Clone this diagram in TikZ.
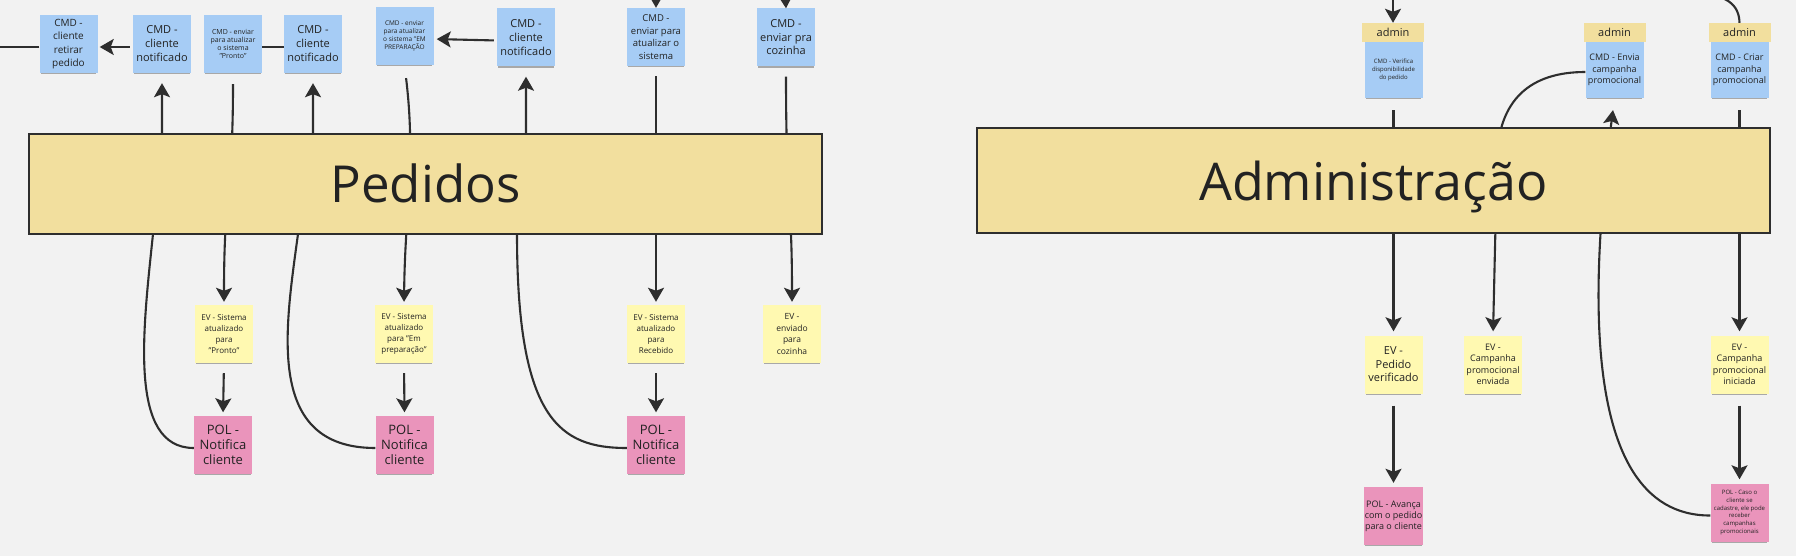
\documentclass[tikz,border=0pt]{standalone}
\usepackage{fontspec}
\setmainfont{Open Sans}
\usetikzlibrary{arrows.meta,shadows}

\definecolor{fundo}{HTML}{F2F2F2}
\definecolor{azul}{HTML}{A6CCF5}
\definecolor{amarelo}{HTML}{FFF9B1}
\definecolor{rosa}{HTML}{EA94BB}
\definecolor{ouro}{HTML}{F2DF9E}
\definecolor{linha}{HTML}{2E2E2E}
\definecolor{texto}{HTML}{222222}

\begin{document}
\begin{tikzpicture}[x=1pt, y=-1pt, >={Stealth[length=14pt,width=16pt,inset=3pt]},
    letra/.style 2 args={font=\fontsize{#1}{#2}\selectfont},
    nota/.style={minimum width=58pt, minimum height=58pt, inner sep=1pt, align=center, text=texto,
      general shadow={fill=black, opacity=.3, shadow yshift=-3pt, shadow scale=.95}},
    cmd/.style={nota, fill=azul},
    ev/.style={nota, fill=amarelo},
    pol/.style={nota, fill=rosa},
    cab/.style={fill=ouro, minimum width=62pt, minimum height=19pt, inner sep=0pt, text=texto, letra={11}{12}},
    bloco/.style={draw=linha, line width=2pt, fill=ouro, minimum width=793pt, inner sep=0pt, text=texto, text depth=0pt},
    liga/.style={draw=linha, line width=2.1pt},
    seta/.style={liga, ->}]

  % fundo e limites
  \useasboundingbox (0,0) rectangle (1796,556);
  \clip (0,0) rectangle (1796,556);
  \fill[fundo] (0,0) rectangle (1796,556);

  % Pedidos: comandos
  \node[cmd, letra={10}{13.3}] (retirar) at (68.5,44) {CMD -\\cliente\\retirar\\pedido};
  \node[cmd, letra={11}{14}] (notifA) at (162,44) {CMD -\\cliente\\notificado};
  \node[cmd, letra={7}{8}] (pronto) at (233,44) {CMD - enviar\\para atualizar\\o sistema\\"Pronto"};
  \node[cmd, letra={11}{14}] (notifB) at (313,44) {CMD -\\cliente\\notificado};
  \node[cmd, letra={6.5}{8}] (preparo) at (404.5,36) {CMD - enviar\\para atualizar\\o sistema "EM\\PREPARAÇÃO};
  \node[cmd, letra={11}{14}] (notifC) at (526,37.5) {CMD -\\cliente\\notificado};
  \node[cmd, letra={9.5}{12.7}] (atualizar) at (656,37) {CMD -\\enviar para\\atualizar o\\sistema};
  \node[cmd, letra={11}{13.5}] (cozinha) at (786,37.5) {CMD -\\enviar pra\\cozinha};

  % Pedidos: eventos
  \node[ev, letra={8}{11}] (evPronto) at (224,334) {EV - Sistema\\atualizado\\para\\"Pronto"};
  \node[ev, letra={8}{11}] (evPreparo) at (404,334) {EV - Sistema\\atualizado\\para "Em\\preparação"};
  \node[ev, letra={8}{11}] (evRecebido) at (656,334) {EV - Sistema\\atualizado\\para\\Recebido};
  \node[ev, letra={8.5}{11.5}] (evCozinha) at (792,334) {EV -\\enviado\\para\\cozinha};

  % Pedidos: politicas
  \node[pol, letra={13}{15}] (polA) at (223,444.5) {POL -\\Notifica\\cliente};
  \node[pol, letra={13}{15}] (polB) at (404.5,444.5) {POL -\\Notifica\\cliente};
  \node[pol, letra={13}{15}] (polC) at (656,444.5) {POL -\\Notifica\\cliente};

  % Administracao: comandos com cabecalho
  \node[cab] (cabVerifica) at (1393,32.5) {admin};
  \node[cmd, minimum height=56pt, letra={6}{8}] (verifica) at (1393.5,70) {CMD - Verifica\\disponibilidade\\do pedido};
  \node[cab] (cabEnvia) at (1614.5,32.5) {admin};
  \node[cmd, minimum height=56pt, letra={9}{11.3}] (envia) at (1614.5,70) {CMD - Envia\\campanha\\promocional};
  \node[cab] (cabCriar) at (1739.5,32.5) {admin};
  \node[cmd, minimum height=56pt, letra={9}{11.3}] (criar) at (1739.5,70) {CMD - Criar\\campanha\\promocional};

  % Administracao: eventos e politicas
  \node[ev, letra={11}{13.5}] (evVerificado) at (1393.5,364.5) {EV -\\Pedido\\verificado};
  \node[ev, letra={9}{11.5}] (evEnviada) at (1493,364.5) {EV -\\Campanha\\promocional\\enviada};
  \node[ev, letra={9}{11.5}] (evIniciada) at (1739.5,364.5) {EV -\\Campanha\\promocional\\iniciada};
  \node[pol, letra={9}{11}] (polAvanca) at (1393.5,516) {POL - Avança\\com o pedido\\para o cliente};
  \node[pol, letra={6}{7.8}] (polCadastro) at (1739.5,512.5) {POL - Caso o\\cliente se\\cadastre, ele pode\\receber\\campanhas\\promocionais};

  % ligacoes na linha de cima
  \coordinate (saidaEsq) at (0,47);
  \draw[liga] ([yshift=-3pt]retirar.west) -- (saidaEsq);
  \draw[seta, shorten <=3pt, shorten >=2pt] ([yshift=-3pt]notifA.west) -- ([yshift=-3pt]retirar.east);
  \draw[liga] ([yshift=-3pt]pronto.east) -- ([yshift=-3pt]notifB.west);
  \draw[seta, shorten <=3pt, shorten >=3pt] ([yshift=-3pt]notifC.west) -- ([yshift=-3pt]preparo.east);

  % setas que chegam de fora
  \coordinate (entraA) at (656,-12);
  \coordinate (entraB) at (785,-12);
  \coordinate (entraC) at (1393,-12);
  \coordinate (entraD) at (1690,-8);
  \draw[seta] (entraA) -- (atualizar.north);
  \draw[seta] (entraB) -- (cozinha.north);
  \draw[seta] (entraC) -- (cabVerifica.north);
  \draw[liga] (entraD) .. controls (1728,-6) and (1739,5) .. (cabCriar.north);

  % CMD -> EV (passam por tras da faixa)
  \draw[seta, shorten <=11pt, shorten >=3pt] (pronto.south) .. controls (233,190) and (224,190) .. (evPronto.north);
  \draw[seta, shorten <=13pt, shorten >=3pt] (preparo.south) .. controls (416,160) and (405,210) .. (evPreparo.north);
  \draw[seta, shorten <=10pt, shorten >=3pt] (atualizar.south) -- (evRecebido.north);
  \draw[seta, shorten <=10pt, shorten >=3pt] (cozinha.south) .. controls (786,200) and (792,200) .. (evCozinha.north);

  % EV -> POL
  \draw[seta, shorten <=10pt, shorten >=3pt] (evPronto.south) -- (polA.north);
  \draw[seta, shorten <=10pt, shorten >=3pt] (evPreparo.south) -- (polB.north);
  \draw[seta, shorten <=10pt, shorten >=3pt] (evRecebido.south) -- (polC.north);

  % POL -> cliente notificado
  \draw[seta, shorten >=10pt] ([yshift=-3.5pt]polA.west) .. controls (128,448) and (143,330) .. (153,234)
        .. controls (155,190) and (162,180) .. (162,133) -- (notifA.south);
  \draw[seta, shorten >=10pt] ([yshift=-3.5pt]polB.west) .. controls (265,448) and (285,330) .. (298,234)
        .. controls (300,190) and (313,180) .. (313,133) -- (notifB.south);
  \draw[seta, shorten >=10pt] ([yshift=-3.5pt]polC.west) .. controls (560,448) and (517,420) .. (517,234)
        .. controls (518,190) and (526,180) .. (526,133) -- (notifC.south);

  % Administracao
  \draw[seta, shorten <=12pt, shorten >=4pt] (verifica.south) -- (evVerificado.north);
  \draw[seta, shorten <=12pt, shorten >=4pt] (evVerificado.south) -- (polAvanca.north);
  \draw[seta, shorten >=4pt] ([yshift=-2pt]envia.west) .. controls (1530,72) and (1498,100) .. (1497,160) -- (evEnviada.north);
  \draw[seta, shorten >=12pt] ([yshift=-3pt]polCadastro.west) .. controls (1570,516) and (1595,250) .. (envia.south);
  \draw[seta, shorten <=12pt, shorten >=4pt] (criar.south) -- (evIniciada.north);
  \draw[seta, shorten <=12pt, shorten >=4pt] (evIniciada.south) -- (polCadastro.north);

  % faixas dos contextos
  \node[bloco, minimum height=100pt, text height=38pt, letra={51}{60}] (pedidos) at (425.5,184) {Pedidos};
  \node[bloco, minimum height=105pt, text height=40pt, letra={52}{60}] (administracao) at (1373.5,180.5) {Administração};
\end{tikzpicture}
\end{document}
